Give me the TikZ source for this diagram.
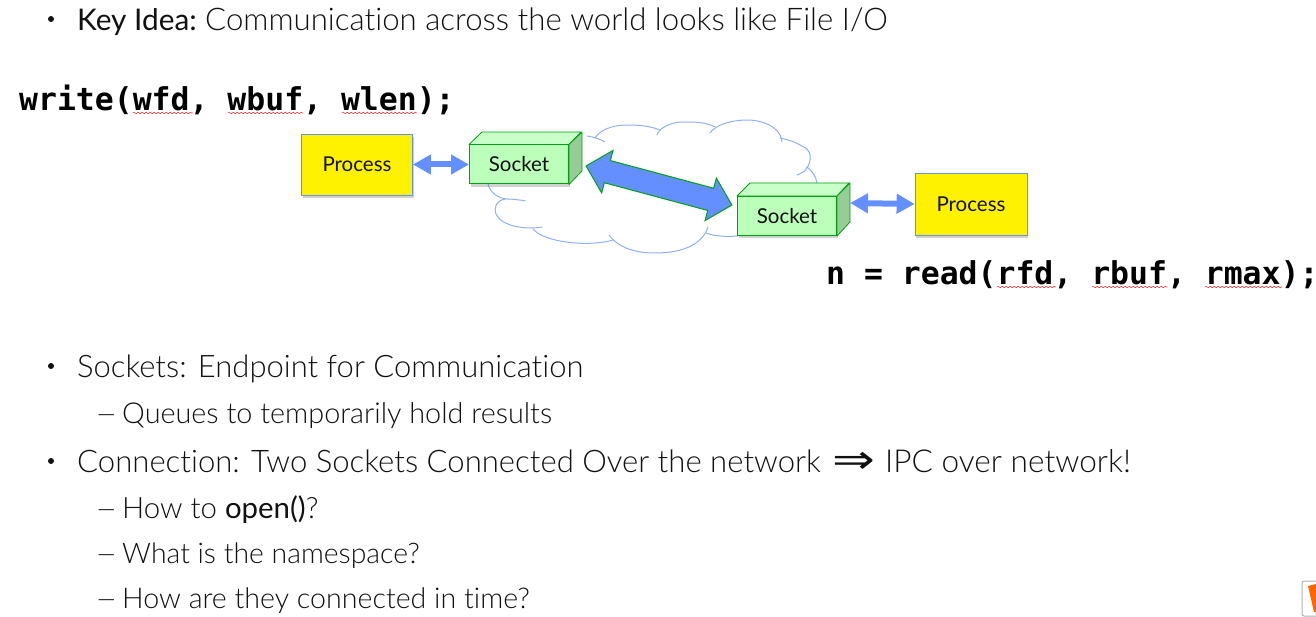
\documentclass[tikz,border=0pt]{standalone}
\usepackage{graphicx}
\usepackage{fontspec}
\setmainfont{Lato Light}[BoldFont=Lato,Ligatures=NoCommon]
\newfontfamily\codefont{DejaVu Sans Mono}[BoldFont={DejaVu Sans Mono Bold}]
\newfontfamily\symfont{DejaVu Sans}
\usetikzlibrary{shapes.arrows,shadows,arrows.meta,decorations.pathmorphing}
\definecolor{cloudblue}{HTML}{8FB0F2}
\definecolor{arrowblue}{HTML}{6490FF}
\definecolor{sockfront}{HTML}{BBFFBB}
\definecolor{socktop}{HTML}{C9FFC9}
\definecolor{sockside}{HTML}{96CC96}
\definecolor{sockline}{HTML}{00A010}
\definecolor{proctext}{HTML}{111111}
\definecolor{bodytext}{HTML}{111111}
\tikzset{
  softshadow/.style={drop shadow={shadow xshift=1pt,shadow yshift=-3pt,opacity=.3,fill=black!60}},
  procbox/.style={draw=arrowblue,line width=.8pt,fill=yellow,inner sep=0pt,text=proctext,font=\bfseries\fontsize{20.5}{24}\selectfont,softshadow},
  sockfrontbox/.style={draw=sockline,line width=1pt,fill=sockfront,inner sep=0pt,minimum width=99pt,minimum height=39pt,text=proctext,font=\bfseries\fontsize{20.5}{24}\selectfont,softshadow},
  sockface/.style={draw=sockline,line width=.8pt,line join=round},
  link/.style={draw=arrowblue,line width=6pt,{Triangle[length=18pt,width=19pt]}-{Triangle[length=18pt,width=19pt]},shorten >=0pt,shorten <=0pt},
  fatlink/.style={shape=double arrow,draw=sockline,line width=1pt,fill=arrowblue,inner xsep=0pt,inner ysep=11pt,minimum height=151pt,minimum width=43pt,double arrow head extend=10.5pt,double arrow tip angle=90,rotate=-15},
  cloudline/.style={draw=cloudblue,line width=1pt,line cap=round},
  lvlone/.style={anchor=base west,text=bodytext,font=\fontsize{31}{34}\selectfont,inner sep=0pt},
  lvltwo/.style={anchor=base west,text=bodytext,font=\fontsize{28.8}{30}\selectfont,inner sep=0pt},
  bulletdot/.style={circle,fill=bodytext,inner sep=0pt,minimum size=6pt},
  codetext/.style={anchor=base west,inner sep=0pt,font=\codefont\bfseries\fontsize{31.45}{34}\selectfont},
  squiggle/.style={draw=red!75!white,line width=.6pt,decorate,decoration={snake,amplitude=.8pt,segment length=4pt}}
}
\newcommand{\sz}[1]{\fontsize{#1}{34}\selectfont}
\newcommand{\longdash}{\scalebox{1.35}[1]{–}}
\begin{document}
\begin{tikzpicture}[x=1pt,y=-1pt]
\useasboundingbox (0,0) rectangle (1316,617);
% bullets
\node[bulletdot] (b1) at (51,19) {};
\node[lvlone] (t1a) at (77,31) {\sz{29.8}\textbf{Key Idea:}};
\node[lvlone] (t1b) at (205,31) {\sz{31.2}Communication across the world looks like File I/O};
\node[codetext] (code1) at (19,111) {write(wfd, wbuf, wlen);};
\node[codetext] (code2) at (826,285) {n = read(rfd, rbuf, rmax);};
\draw[squiggle] (133,113) -- (193,113);
\draw[squiggle] (228,113) -- (303,113);
\draw[squiggle] (342,113) -- (417,113);
\draw[squiggle] (997,287) -- (1056,287);
\draw[squiggle] (1092,287) -- (1167,287);
\draw[squiggle] (1205,287) -- (1282,287);
% cloud
\draw[cloudline] (488,184) .. controls (490,192) and (497,198) .. (507,199) .. controls (513,199) and (519,200) .. (525,200.7);
\draw[cloudline] (505,199) .. controls (495,201) and (494,209) .. (496,214) .. controls (501,226) and (525,230) .. (542,227);
\draw[cloudline] (533,229) .. controls (545,243) and (590,247) .. (613,240);
\draw[cloudline] (609,235) .. controls (620,250) and (640,253) .. (655,253) .. controls (685,253) and (703,243) .. (708,227);
\draw[cloudline] (706,233) .. controls (714,236) and (725,237) .. (738,236);
\draw[cloudline] (817,183) .. controls (816,176) and (812,171) .. (807,167);
\draw[cloudline] (807,167) .. controls (806,171) and (802,173) .. (797,175);
\draw[cloudline] (807,168) .. controls (812,160) and (812,150) .. (802,146) .. controls (797,143) and (790,140) .. (780,138);
\draw[cloudline] (782,142) .. controls (780,125) and (760,120) .. (747,120) .. controls (733,120) and (716,124) .. (710,133);
\draw[cloudline] (715,127) .. controls (705,122) and (695,122) .. (683,122) .. controls (671,122) and (659,128) .. (657,135);
\draw[cloudline] (660,130) .. controls (650,126) and (640,125) .. (627,125) .. controls (612,125) and (600,130) .. (595,138);
\draw[cloudline] (605,142) .. controls (600,139) and (594,137) .. (587,136);
% processes
\node[procbox,minimum width=111pt,minimum height=61pt] (p1) at (357,164.5) {Process};
\node[procbox,minimum width=112pt,minimum height=62pt] (p2) at (971,204) {Process};
% sockets
\node[sockfrontbox] (s1) at (519,164.5) {Socket};
\draw[sockface,fill=socktop] (s1.north west) -- ++(13,-12.5) -- ++(99,0) -- (s1.north east) -- cycle;
\draw[sockface,fill=sockside] (s1.north east) -- ++(13,-12.5) -- ++(0,39) -- (s1.south east) -- cycle;
\node[sockfrontbox] (s2) at (787,216) {Socket};
\draw[sockface,fill=socktop] (s2.north west) -- ++(13,-13) -- ++(99,0) -- (s2.north east) -- cycle;
\draw[sockface,fill=sockside] (s2.north east) -- ++(13,-13) -- ++(0,39) -- (s2.south east) -- cycle;
% links
\draw[link] (p1.east) -- (s1.west);
\coordinate (s2e) at (850,203);
\draw[link] (s2e) -- (p2.west);
\node[fatlink] (fat) at (659,185.5) {};
% lists
\node[bulletdot] (b2) at (51,366) {};
\node[lvlone] (t2) at (77,377) {Sockets: Endpoint for Communication};
\node[lvltwo] (d3) at (95,423) {\longdash};
\node[lvltwo] (t3) at (122,423) {Queues to temporarily hold results};
\node[bulletdot] (b3) at (51,461) {};
\node[lvlone] (t4) at (77,472) {\sz{31.1}Connection: Two Sockets Connected Over the network};
\node[lvlone] (t4a) at (832,473) {\symfont\scalebox{1.65}[1.3]{⇒}};
\node[lvlone] (t4b) at (885,472) {\sz{31.6}IPC over network!};
\node[lvltwo] (d5) at (95,518) {\longdash};
\node[lvltwo] (t5) at (122,518) {\sz{29.4}How to \textbf{open()}?};
\node[lvltwo] (d6) at (95,563) {\longdash};
\node[lvltwo] (t6) at (122,563) {\sz{28.4}What is the namespace?};
\node[lvltwo] (d7) at (95,608) {\longdash};
\node[lvltwo] (t7) at (122,608) {\sz{28.6}How are they connected in time?};
% corner icon
\begin{scope}
\clip (1290,570) rectangle (1316,617);
\draw[draw=black!30,fill=white,line width=1pt,rounded corners=2pt] (1302,581) rectangle (1330,616);
\fill[orange!80!red] (1308,586) -- (1316,584) -- (1316,612) -- (1314,612) -- cycle;
\end{scope}
\end{tikzpicture}
\end{document}
